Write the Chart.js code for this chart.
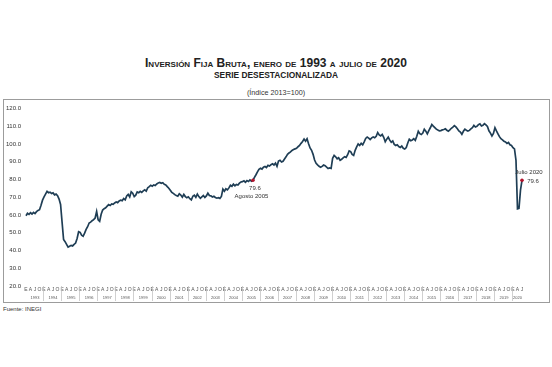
<!DOCTYPE html>
<html>
<head>
<meta charset="utf-8">
<script src="https://cdn.jsdelivr.net/npm/chart.js@4"></script>
<style>
html, body { margin: 0; padding: 0; background: #fff; }
body { width: 552px; height: 367px; position: relative; overflow: hidden;
       font-family: "Liberation Sans", Arial, sans-serif; color: #222; }
.t { position: absolute; left: 0; width: 552px; text-align: center; white-space: nowrap; }
#t1 { top: 56px; font-size: 12px; font-weight: bold; font-variant: small-caps; }
#t2 { top: 70px; font-size: 8.4px; font-weight: bold; }
#t3 { top: 88px; font-size: 7.2px; color: #333; }
#frame { position: absolute; left: 3px; top: 99px; width: 545px; height: 202px; border: 1px solid #9c9c9c; }
#chart { position: absolute; left: 4px; top: 100px; }
#src { position: absolute; left: 3px; top: 306px; font-size: 6px; color: #333; }
</style>
</head>
<body>
<div class="t" id="t1">Inversión Fija Bruta, enero de 1993 a julio de 2020</div>
<div class="t" id="t2">SERIE DESESTACIONALIZADA</div>
<div class="t" id="t3">(Índice 2013=100)</div>
<div id="frame"></div>
<canvas id="chart" width="545" height="201"></canvas>
<div id="src">Fuente: INEGI</div>
<script>
// monthly, Jan 1993 .. Jul 2020
const years = [];
for (let y = 1993; y <= 2020; y++) years.push(y);
const monthLetters = ['E', '', '', 'A', '', '', 'J', '', '', 'O', '', ''];

const values = [
  59.6, 61.0, 60.4, 61.3, 60.6, 61.5, 60.8, 61.9, 62.6, 63.0, 65.5, 68.4, // 1993
  70.2, 71.8, 73.4, 72.6, 72.9, 72.1, 72.5, 71.4, 71.8, 70.9, 69.0, 66.0, // 1994
  56.0, 46.2, 45.0, 43.5, 41.9, 42.4, 42.9, 42.6, 43.5, 44.2, 46.8, 50.6, // 1995
  50.2, 48.6, 48.0, 49.8, 51.9, 53.4, 55.5, 56.0, 56.8, 57.4, 58.3, 62.0, // 1996
  57.3, 56.5, 60.4, 62.8, 63.6, 64.1, 65.0, 65.9, 65.4, 66.3, 66.0, 66.8, // 1997
  67.4, 67.0, 67.9, 68.4, 68.1, 69.3, 68.6, 70.8, 71.6, 70.2, 73.1, 72.3, // 1998
  70.4, 71.2, 73.0, 72.6, 73.4, 72.8, 73.6, 74.2, 73.5, 75.4, 76.0, 76.8, // 1999
  76.3, 77.0, 76.6, 77.5, 78.1, 78.4, 77.9, 78.2, 77.3, 77.0, 76.0, 75.1, // 2000
  74.0, 72.8, 72.2, 71.5, 71.0, 70.6, 72.0, 71.3, 70.1, 71.6, 70.4, 69.8, // 2001
  70.3, 69.2, 68.5, 70.6, 71.2, 70.0, 71.8, 70.4, 69.4, 70.2, 71.0, 69.9, // 2002
  70.8, 72.3, 71.0, 70.8, 70.2, 70.6, 69.9, 69.5, 69.8, 69.4, 70.5, 74.6, // 2003
  73.4, 74.8, 74.2, 75.3, 76.8, 76.2, 77.4, 76.5, 77.2, 76.9, 78.0, 78.6, // 2004
  78.8, 79.3, 78.5, 79.4, 78.9, 79.8, 79.1, 79.6, 81.2, 82.7, 84.3, 85.8, // 2005
  86.4, 85.9, 87.0, 87.4, 86.8, 88.0, 87.6, 88.4, 88.9, 88.2, 89.3, 87.5, // 2006
  90.4, 90.9, 89.9, 90.3, 91.6, 92.8, 94.2, 95.0, 95.6, 96.4, 96.9, 97.3, // 2007
  97.6, 98.5, 99.2, 100.4, 101.5, 102.8, 101.6, 103.0, 100.2, 97.8, 96.5, 94.2, // 2008
  91.0, 89.2, 88.3, 87.5, 86.9, 87.4, 88.2, 87.8, 87.0, 86.2, 86.6, 86.3, // 2009
  92.0, 93.6, 92.8, 91.7, 92.3, 90.9, 91.4, 92.2, 92.9, 92.5, 94.0, 96.2, // 2010
  95.8, 94.2, 93.6, 96.5, 98.4, 100.1, 99.2, 100.4, 99.6, 101.3, 103.2, 104.0, // 2011
  103.4, 102.6, 103.5, 104.0, 103.6, 104.4, 106.5, 105.2, 104.6, 105.4, 103.8, 101.3, // 2012
  102.8, 103.9, 102.2, 101.0, 101.8, 99.8, 99.2, 99.6, 98.6, 98.1, 98.9, 97.6, // 2013
  97.2, 98.0, 100.6, 102.7, 101.9, 102.3, 103.0, 102.1, 104.4, 107.2, 105.9, 105.4, // 2014
  106.2, 108.4, 107.3, 105.8, 107.6, 109.2, 111.0, 110.1, 109.3, 108.4, 107.9, 107.5, // 2015
  107.6, 108.0, 108.2, 108.6, 107.8, 107.3, 108.0, 108.9, 109.6, 110.4, 109.7, 108.6, // 2016
  107.4, 106.8, 105.5, 107.2, 108.4, 107.8, 107.3, 107.7, 108.6, 109.2, 110.5, 109.6, // 2017
  110.0, 110.9, 111.4, 110.2, 110.6, 111.5, 110.8, 109.9, 107.5, 106.2, 104.6, 106.0, // 2018
  109.2, 107.4, 105.8, 104.2, 103.0, 102.4, 101.6, 101.2, 100.4, 100.9, 99.6, 99.2, // 2019
  98.0, 97.3, 90.8, 63.5, 63.8, 74.0, 79.6 // 2020
];

// highlighted points: Aug 2005 and Jul 2020
const marks = [
  { index: 151, lines: [{ text: '79.6', dx: 2, dy: 8 }, { text: 'Agosto 2005', dx: -1.5, dy: 16 }] },
  { index: 330, lines: [{ text: 'Julio 2020', dx: 7, dy: -7.5 }, { text: '79.6', dx: 11, dy: 1 }] }
];
const markIdx = marks.map(m => m.index);

const labels = values.map((v, i) => (1993 + Math.floor(i / 12)) + '-' + (i % 12 + 1));

const annot = {
  id: 'annot',
  afterDraw(chart) {
    const c = chart.ctx;
    const area = chart.chartArea;
    const xs = chart.scales.x;
    // year separators under the plot
    c.save();
    c.strokeStyle = '#c4c4c4';
    c.lineWidth = 0.8;
    for (let i = 12; i < values.length; i += 12) {
      const px = Math.round((xs.getPixelForValue(i - 1) + xs.getPixelForValue(i)) / 2) + 0.5;
      c.beginPath();
      c.moveTo(px, area.bottom);
      c.lineTo(px, chart.height);
      c.stroke();
    }
    // labels of the highlighted points
    const meta = chart.getDatasetMeta(0);
    c.fillStyle = '#333';
    c.font = '6px "Liberation Sans", Arial, sans-serif';
    c.textAlign = 'center';
    c.textBaseline = 'middle';
    marks.forEach(m => {
      const p = meta.data[m.index];
      m.lines.forEach(l => c.fillText(l.text, p.x + l.dx, p.y + l.dy));
    });
    c.restore();
  }
};

new Chart(document.getElementById('chart'), {
  type: 'line',
  data: {
    labels: labels,
    datasets: [{
      data: values,
      borderColor: '#1f3e55',
      borderWidth: 1.7,
      tension: 0,
      pointRadius: ctx => markIdx.includes(ctx.dataIndex) ? 1.8 : 0,
      pointBackgroundColor: '#b3122b',
      pointBorderWidth: 0
    }]
  },
  options: {
    responsive: false,
    animation: false,
    layout: { padding: { top: 6, right: 27, left: 0, bottom: 0 } },
    plugins: { legend: { display: false }, tooltip: { enabled: false } },
    scales: {
      x: {
        weight: 0,
        grid: { display: false, drawTicks: false },
        border: { display: false },
        ticks: {
          autoSkip: false, maxRotation: 0, minRotation: 0, padding: 1,
          color: '#555', font: { size: 5 },
          callback: (v, i) => monthLetters[i % 12]
        },
        afterFit: s => { s.height = 7; }
      },
      x2: {
        type: 'category',
        position: 'bottom',
        weight: 1,
        grid: { display: false, drawTicks: false },
        border: { display: false },
        ticks: {
          autoSkip: false, maxRotation: 0, minRotation: 0, padding: 2,
          color: '#555', font: { size: 4 },
          callback: (v, i) => {
            const yr = years[Math.floor(i / 12)];
            if (yr === 2020) return i === 327 ? String(yr) : '';
            return i % 12 === 6 ? String(yr) : '';
          }
        },
        afterFit: s => { s.height = 8; }
      },
      y: {
        min: 20,
        max: 120,
        grid: { display: false, drawTicks: false },
        border: { display: false },
        ticks: {
          stepSize: 10, padding: 5, color: '#333', font: { size: 6 },
          callback: v => v.toFixed(1)
        },
        afterFit: s => { s.width = 22; }
      }
    }
  },
  plugins: [annot]
});
</script>
</body>
</html>
